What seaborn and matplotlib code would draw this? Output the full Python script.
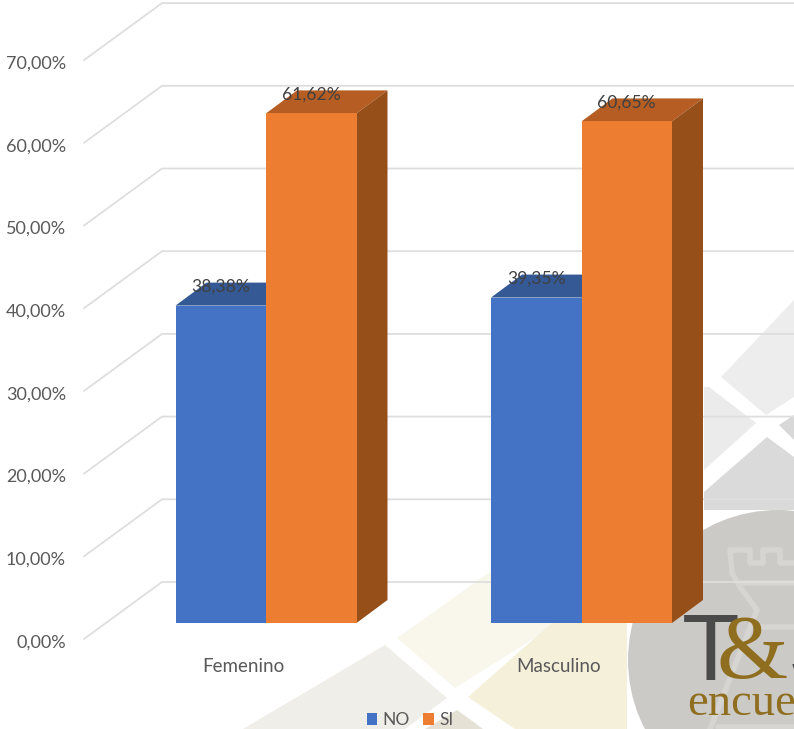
import matplotlib
matplotlib.use('Agg')
import matplotlib.pyplot as plt
from matplotlib.patches import Polygon, Circle
from matplotlib.transforms import Affine2D, ScaledTranslation
import pandas as pd
import seaborn as sns

# data
sexo = ['Femenino', 'Masculino']
no_vals = [38.38, 39.35]
si_vals = [61.62, 60.65]
y_ticks = [0, 10, 20, 30, 40, 50, 60, 70]

df = pd.DataFrame({
    'sexo': sexo * 2,
    'respuesta': ['NO'] * 2 + ['SI'] * 2,
    'pct': no_vals + si_vals,
})

W, H = 794, 729
PX_CAT = 315.5   # px between categories
PX_PCT = 8.27    # px per percentage point
BASE = 623       # px row of the 0 line


def fmt(v):
    return f'{v:.2f}'.replace('.', ',') + '%'


sns.set_style('white')
plt.rcParams['font.family'] = ['Lato', 'DejaVu Sans']

fig = plt.figure(figsize=(W / 100, H / 100), dpi=100, facecolor='white')
ax = fig.add_axes([0, (H - BASE) / H, 1, BASE / H], zorder=2)
ax.patch.set_visible(False)

# pixel coords with origin top left, for the decoration behind the chart
px = Affine2D().scale(1, -1).translate(0, H)


def deco(points, color, z=0.2):
    fig.add_artist(Polygon(points, closed=True, fc=color, ec='none', transform=px, zorder=z))


def rook_line(points, lw=4):
    fig.add_artist(plt.Line2D([p[0] for p in points], [p[1] for p in points], color='#D6D5D1', lw=lw,
                              transform=px, zorder=0.35))


# watermark logo
deco([(243, 729), (385, 645), (447, 698), (405, 729)], '#F0EEE9')
deco([(397, 638), (490, 572), (560, 622), (455, 688)], '#F9F6EC')
deco([(468, 697), (553, 622), (627, 622), (627, 729), (515, 729)], '#F5F0DA')
deco([(457, 710), (483, 729), (425, 729)], '#E5E1D5')
deco([(721, 377), (794, 300), (794, 397), (766, 415)], '#EDEDED')
deco([(704, 387), (709, 387), (756, 423), (704, 470)], '#EBEBEB')
deco([(767, 437), (794, 457), (794, 510), (704, 510), (704, 492)], '#DADADA')
deco([(779, 425), (794, 415), (794, 440)], '#D8D8D8')
fig.add_artist(Circle((778, 660), 150, fc='#CBCAC6', ec='none', transform=px, zorder=0.3))
rook_line([(710, 729), (757, 610), (740, 587), (732, 573), (730, 550), (750, 550), (750, 563),
           (763, 563), (763, 550), (780, 550), (780, 563), (794, 563)])
rook_line([(740, 583), (794, 583)])
rook_line([(757, 627), (794, 627)])
rook_line([(718, 727), (794, 727)])
fig.text(682, H - 680, 'T', color='#4A4A4A', fontsize=68,
         family=['Liberation Sans Narrow', 'Liberation Sans'], transform=None, zorder=0.4)
fig.text(717, H - 678, '&', color='#8F6E20', fontsize=66, family='Liberation Serif', transform=None, zorder=0.4)
fig.text(788, H - 680, 'S', color='#4A4A4A', fontsize=68, family='Liberation Sans', transform=None, zorder=0.4)
fig.text(687, H - 715, 'encue', color='#8F6E20', fontsize=33.5, family='Liberation Serif', transform=None, zorder=0.4)

sns.barplot(data=df, x='sexo', y='pct', hue='respuesta', palette=['#4472C4', '#ED7D31'],
            width=181 / PX_CAT, gap=0, linewidth=0, saturation=1, ax=ax)

ax.set_xlim(-266 / PX_CAT, (W - 266) / PX_CAT)
ax.set_ylim(0, BASE / PX_PCT)
ax.set_xlabel('')
ax.set_ylabel('')
sns.despine(ax=ax, left=True, bottom=True, right=True, top=True)

# y labels sit on the front edge of the floor, 18 px under the bar base
ax.set_yticks(y_ticks)
ax.set_yticklabels([fmt(v) for v in y_ticks])
ax.tick_params(axis='y', length=0, pad=-47.5, labelsize=13, labelcolor='#595959')
for lab in ax.get_yticklabels():
    lab.set_transform(lab.get_transform() + ScaledTranslation(0, -18 / 100, fig.dpi_scale_trans))

ax.tick_params(axis='x', length=0, pad=25.5, labelsize=13.5, labelcolor='#595959')
for lab in ax.get_xticklabels():
    lab.set_transform(lab.get_transform() + ScaledTranslation(-23 / 100, 0, fig.dpi_scale_trans))

# back wall and left wall gridlines
x_wall_l = (162 - 266) / PX_CAT
x_front = (84 - 266) / PX_CAT
x_end = (W - 266) / PX_CAT
for v in y_ticks:
    back = v + 41 / PX_PCT
    front = v - 16 / PX_PCT
    ax.plot([x_front, x_wall_l, x_end], [front, back, back], color='#DEDEDE', lw=1.3,
            solid_joinstyle='miter', clip_on=False, zorder=1)

# 3d faces of each bar, built from the bars seaborn drew
DX = 31 / PX_CAT
DY = 23 / PX_PCT
face_colors = [('#345995', '#2F5597'), ('#B55D22', '#964F19')]
for i, cont in enumerate(ax.containers):
    top_c, side_c = face_colors[i]
    for bar in cont:
        x0 = bar.get_x()
        x1 = x0 + bar.get_width()
        h = bar.get_height()
        bar.set_zorder(3 + 2 * i)
        ax.add_patch(Polygon([(x0, h), (x0 + DX, h + DY), (x1 + DX, h + DY), (x1, h)],
                             fc=top_c, ec='none', zorder=2 + 2 * i))
        ax.add_patch(Polygon([(x1, 0), (x1 + DX, DY), (x1 + DX, h + DY), (x1, h)],
                             fc=side_c, ec='none', zorder=2 + 2 * i))
    labels = ax.bar_label(cont, labels=[fmt(b.get_height()) for b in cont], padding=8,
                          fontsize=12.6, color='#404040')
    for t in labels:
        t.set_zorder(8)

ax.legend(title=None, loc='center', bbox_to_anchor=(410 / W, (H - 720) / H),
          bbox_transform=fig.transFigure, frameon=False, ncol=2, fontsize=12.5,
          labelcolor='#595959', handlelength=0.62, handleheight=0.62, handletextpad=0.3,
          columnspacing=0.75, borderpad=0)

fig.savefig('out.png', dpi=100)
plt.close(fig)
